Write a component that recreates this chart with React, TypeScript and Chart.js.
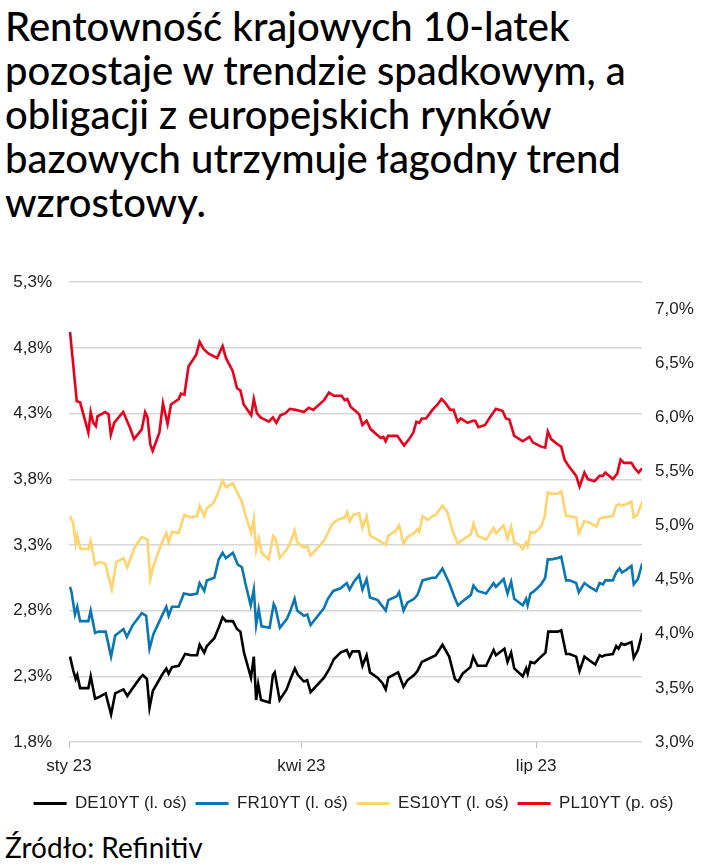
import { useEffect, useRef } from 'react';
import { Chart, registerables } from 'chart.js';

Chart.register(...registerables);

const titleLines = [
  'Rentowność krajowych 10-latek',
  'pozostaje w trendzie spadkowym, a',
  'obligacji z europejskich rynków',
  'bazowych utrzymuje łagodny trend',
  'wzrostowy.',
];
const sourceText = 'Źródło: Refinitiv';

// x values = days since 1 Jan 2023
const xTickDays = [0, 90, 181];
const xTickLabels = ['sty 23', 'kwi 23', 'lip 23'];
const leftTicks = [1.8, 2.3, 2.8, 3.3, 3.8, 4.3, 4.8, 5.3];
const rightTicks = [3.0, 3.5, 4.0, 4.5, 5.0, 5.5, 6.0, 6.5, 7.0];

const seriesNames = ['DE10YT (l. oś)', 'FR10YT (l. oś)', 'ES10YT (l. oś)', 'PL10YT (p. oś)'];

const deDays = [0.4, 1.7, 2.6, 3.2, 4.3, 7.5, 8.4, 10.1, 11.4, 14.2, 16.3, 17.9, 21.1, 22.6, 24.3, 27.6, 28.6, 30.2, 31.2, 32.5, 36, 37.7, 38.6, 39.9, 42.5, 45, 47.3, 49.6, 50.6, 52.4, 53.4, 56.3, 58, 59.5, 60.8, 63.5, 65.1, 66.4, 67.8, 70.5, 71.6, 72.5, 73.3, 74.4, 77.7, 79, 79.7, 81.6, 84.3, 85.8, 87.5, 88.7, 91, 92.3, 93.6, 98.8, 100.7, 102.6, 105.2, 107.6, 108.7, 109.8, 112.4, 113.7, 115.3, 116.6, 119.5, 121.4, 122.7, 123.7, 127.5, 129.6, 131.1, 133.7, 135, 136.7, 138.9, 142.1, 144.7, 147.3, 149.5, 150.8, 152.5, 155.5, 156.6, 158.3, 161.6, 164.5, 165.4, 168.7, 169.9, 171.3, 172.5, 175.8, 177.1, 177.7, 178.8, 180.3, 182.9, 184.6, 185.7, 187.4, 189.4, 190.7, 192.6, 193.9, 196.5, 197.8, 199.7, 201.7, 203.9, 205.6, 206.5, 207.5, 210.7, 212, 212.9, 214, 215.3, 217.9, 218.8, 220.4, 222.1];
const deVals = [2.45, 2.34, 2.28, 2.31, 2.21, 2.21, 2.30, 2.13, 2.14, 2.17, 2.01, 2.17, 2.20, 2.15, 2.20, 2.29, 2.31, 2.28, 2.06, 2.19, 2.31, 2.36, 2.32, 2.37, 2.38, 2.47, 2.46, 2.46, 2.54, 2.48, 2.53, 2.59, 2.67, 2.75, 2.72, 2.72, 2.66, 2.64, 2.48, 2.29, 2.45, 2.12, 2.24, 2.12, 2.10, 2.31, 2.33, 2.12, 2.20, 2.28, 2.36, 2.31, 2.26, 2.27, 2.18, 2.29, 2.35, 2.43, 2.48, 2.50, 2.45, 2.49, 2.49, 2.38, 2.46, 2.33, 2.29, 2.25, 2.20, 2.29, 2.33, 2.22, 2.27, 2.31, 2.34, 2.41, 2.43, 2.46, 2.54, 2.45, 2.28, 2.26, 2.32, 2.37, 2.45, 2.38, 2.38, 2.50, 2.46, 2.51, 2.41, 2.48, 2.36, 2.30, 2.36, 2.32, 2.41, 2.40, 2.45, 2.48, 2.64, 2.64, 2.64, 2.65, 2.47, 2.47, 2.45, 2.34, 2.45, 2.42, 2.39, 2.46, 2.45, 2.46, 2.47, 2.53, 2.51, 2.55, 2.54, 2.56, 2.44, 2.50, 2.63];

const frDays = [0.4, 1, 2.3, 3.2, 4.3, 7.5, 8.4, 10.1, 11.4, 14.2, 16.3, 17.9, 21.1, 22.4, 24.7, 28.2, 29.9, 31.2, 32.7, 36, 37.7, 38.6, 39.9, 42.5, 44.5, 47, 49.6, 50.6, 52.4, 53.4, 56.3, 58, 59.5, 60.8, 63.5, 65.4, 67, 68.3, 70.4, 71.6, 72.5, 73.5, 74.6, 77.7, 79.3, 80, 81.7, 84.5, 85.8, 87.4, 88.4, 91, 92.3, 93.6, 98.8, 100.3, 102.4, 105.2, 107.6, 108.7, 110.4, 112.4, 113.7, 115.3, 116.6, 119.6, 122.7, 123.7, 127, 127.9, 129.6, 131.1, 133.7, 135, 137, 138.9, 140.8, 142.1, 144.7, 147.3, 149.2, 150.7, 153.1, 155.7, 156.7, 158.3, 161.6, 164.5, 165.4, 168.4, 169.9, 171.3, 172.5, 175.8, 177.1, 177.7, 178.8, 180.3, 182.9, 184.5, 185.5, 187, 189.4, 190.7, 192.6, 193.9, 196.5, 197.5, 199.7, 201.7, 204.3, 205.6, 206.9, 207.8, 210.7, 212, 213.3, 214.2, 215.9, 217.9, 218.8, 220.4, 222.1];
const frVals = [2.98, 2.94, 2.77, 2.83, 2.72, 2.72, 2.80, 2.63, 2.64, 2.64, 2.45, 2.61, 2.66, 2.60, 2.69, 2.78, 2.76, 2.51, 2.62, 2.76, 2.83, 2.76, 2.83, 2.83, 2.93, 2.92, 2.93, 3.01, 2.95, 3.03, 3.05, 3.19, 3.24, 3.20, 3.24, 3.15, 3.13, 3.01, 2.84, 2.96, 2.69, 2.81, 2.68, 2.67, 2.85, 2.82, 2.67, 2.74, 2.80, 2.89, 2.80, 2.76, 2.77, 2.69, 2.82, 2.89, 2.95, 2.97, 3.01, 2.96, 3.02, 3.07, 2.96, 3.04, 2.90, 2.88, 2.80, 2.88, 2.91, 2.94, 2.80, 2.86, 2.89, 2.92, 3.03, 3.04, 3.05, 3.05, 3.12, 3.01, 2.91, 2.84, 2.88, 2.92, 2.99, 2.95, 2.93, 3.01, 2.98, 3.04, 2.93, 3.02, 2.89, 2.84, 2.89, 2.84, 2.93, 2.95, 3.00, 3.05, 3.19, 3.19, 3.20, 3.21, 3.03, 3.03, 3.01, 2.94, 3.01, 2.98, 2.95, 3.01, 3.00, 3.03, 3.03, 3.09, 3.12, 3.09, 3.11, 3.14, 3.00, 3.04, 3.16];

const esDays = [0.4, 1.7, 2.6, 3.2, 3.9, 4.5, 7.5, 8.4, 10.1, 11.4, 14, 16.6, 18.3, 21.1, 22.6, 25.6, 28.2, 30.4, 31.5, 32.7, 36, 37.7, 38.6, 39.9, 42.5, 44.7, 47, 49.6, 50.6, 52.4, 53.4, 56, 57.4, 59.5, 60.8, 63.5, 65.4, 67, 68.3, 70.6, 71.6, 72.5, 73.5, 74.6, 77.4, 79.1, 80, 81.7, 84.5, 85.8, 87.4, 88.4, 91, 92.3, 93.6, 98.8, 102, 104, 106.8, 107.8, 108.7, 110.2, 112.4, 113.7, 115.3, 116.6, 119.5, 122.7, 123.7, 126.6, 127.9, 129.6, 131.1, 133.7, 135, 135.7, 137, 138.9, 140.8, 142.1, 144.7, 146.6, 148.6, 150.6, 152.5, 155.7, 156.7, 158.3, 161.6, 164.5, 165.4, 168.4, 169.9, 171.3, 172.5, 174.5, 175.8, 177.1, 177.7, 178.8, 180.3, 182.9, 184.2, 185.5, 187, 189.4, 190.7, 192.6, 193.5, 196.5, 197.5, 199.7, 201.7, 204.3, 205.6, 206.9, 207.8, 210.7, 212, 213.3, 214.2, 215.9, 217.9, 218.8, 220.2, 222.1];
const esVals = [3.52, 3.46, 3.31, 3.37, 3.31, 3.27, 3.27, 3.33, 3.15, 3.17, 3.16, 2.96, 3.17, 3.20, 3.13, 3.29, 3.36, 3.34, 3.04, 3.14, 3.32, 3.39, 3.32, 3.40, 3.39, 3.53, 3.51, 3.52, 3.60, 3.52, 3.58, 3.62, 3.68, 3.79, 3.74, 3.77, 3.69, 3.63, 3.53, 3.39, 3.50, 3.26, 3.35, 3.24, 3.19, 3.37, 3.35, 3.20, 3.27, 3.32, 3.41, 3.32, 3.28, 3.29, 3.22, 3.33, 3.46, 3.49, 3.51, 3.55, 3.48, 3.53, 3.54, 3.43, 3.52, 3.37, 3.34, 3.30, 3.37, 3.41, 3.45, 3.31, 3.36, 3.39, 3.42, 3.40, 3.52, 3.49, 3.52, 3.53, 3.60, 3.55, 3.41, 3.31, 3.34, 3.38, 3.46, 3.37, 3.34, 3.43, 3.39, 3.45, 3.35, 3.44, 3.32, 3.30, 3.27, 3.32, 3.29, 3.40, 3.39, 3.44, 3.51, 3.70, 3.69, 3.69, 3.71, 3.52, 3.52, 3.51, 3.39, 3.48, 3.47, 3.44, 3.50, 3.51, 3.51, 3.52, 3.60, 3.61, 3.60, 3.61, 3.63, 3.51, 3.53, 3.63];

const plDays = [0.4, 3, 4.3, 7.5, 8.4, 9.4, 10.4, 11, 14, 15.3, 16.2, 17.5, 18.5, 21, 23.7, 25.2, 28.2, 29.5, 30.4, 31.5, 32.4, 35, 36.4, 38.2, 39.5, 42.5, 43.4, 44.7, 46.3, 49.3, 50.6, 52.2, 54.1, 57.4, 59.5, 60.8, 63.4, 65.1, 66.4, 67.7, 70.6, 71.6, 72.8, 74.2, 77.4, 79, 80.3, 81.9, 83.9, 85.6, 87.8, 91, 92.9, 94.6, 98.8, 100.7, 102.6, 105.6, 106.8, 107.8, 109.1, 112.4, 113.7, 115.3, 116.9, 120.8, 121.8, 122.7, 123.6, 127.2, 129.8, 131.8, 133.4, 134.6, 135.7, 136.7, 138.3, 140.8, 142.8, 144.3, 145.6, 147.7, 149, 150.6, 151.8, 154.4, 156.4, 157.4, 158.6, 161.2, 162.8, 165.4, 168, 169.3, 170.6, 172.5, 175.8, 178.4, 179.7, 182.9, 184.5, 185.5, 186.8, 189.4, 190.7, 192, 193.3, 196.5, 197.8, 199.7, 201, 203.6, 205.6, 206.8, 207.8, 210.7, 212.4, 213.7, 215, 217.9, 219.2, 220.7, 222];
const plVals = [6.79, 6.15, 6.14, 5.86, 6.05, 5.95, 5.92, 6.01, 6.05, 6.03, 5.84, 5.95, 5.98, 6.05, 5.90, 5.80, 5.89, 6.05, 6.00, 5.75, 5.69, 5.86, 6.13, 5.94, 6.12, 6.17, 6.22, 6.21, 6.47, 6.58, 6.70, 6.63, 6.59, 6.55, 6.66, 6.55, 6.43, 6.27, 6.25, 6.12, 6.02, 6.17, 6.04, 6.00, 5.96, 6.00, 5.95, 6.02, 6.04, 6.08, 6.07, 6.05, 6.09, 6.07, 6.16, 6.23, 6.20, 6.20, 6.16, 6.17, 6.10, 6.03, 5.93, 5.97, 5.89, 5.81, 5.82, 5.78, 5.83, 5.83, 5.74, 5.80, 5.86, 5.96, 5.95, 5.99, 5.99, 6.07, 6.12, 6.17, 6.14, 6.07, 6.07, 5.96, 5.99, 5.95, 5.97, 5.97, 5.91, 5.93, 5.99, 6.08, 6.06, 5.99, 5.98, 5.83, 5.78, 5.82, 5.77, 5.73, 5.72, 5.87, 5.80, 5.75, 5.73, 5.61, 5.56, 5.46, 5.36, 5.49, 5.43, 5.41, 5.46, 5.46, 5.49, 5.43, 5.48, 5.61, 5.58, 5.58, 5.53, 5.49, 5.53];

const colors = ['#000000', '#0a76b4', '#ffd36e', '#e8001c'];

const toPoints = (days: number[], vals: number[]) => days.map((d, i) => ({ x: d, y: vals[i] }));
const fmtPct = (v: number) => v.toFixed(1).replace('.', ',') + '%';

const CHART_FONT = '"Liberation Sans", Arial, sans-serif';
const TITLE_FONT = 'Lato, "Noto Sans", sans-serif';

export default function App() {
  const canvasRef = useRef<HTMLCanvasElement | null>(null);

  useEffect(() => {
    if (!canvasRef.current) return;
    const seriesData = [
      { days: deDays, vals: deVals, axis: 'y' },
      { days: frDays, vals: frVals, axis: 'y' },
      { days: esDays, vals: esVals, axis: 'y' },
      { days: plDays, vals: plVals, axis: 'y2' },
    ];
    const tickFont = { family: CHART_FONT, size: 17 };
    const chart = new Chart(canvasRef.current, {
      type: 'line',
      data: {
        datasets: seriesData.map((s, i) => ({
          label: seriesNames[i],
          data: toPoints(s.days, s.vals),
          yAxisID: s.axis,
          borderColor: colors[i],
          backgroundColor: colors[i],
          borderWidth: 2.6,
          pointRadius: 0,
          tension: 0,
          fill: false,
        })),
      },
      options: {
        animation: false,
        responsive: true,
        maintainAspectRatio: false,
        layout: { padding: { top: 24, left: 0, right: 0, bottom: 0 } },
        plugins: {
          tooltip: { enabled: false },
          legend: {
            position: 'bottom',
            align: 'center',
            labels: {
              boxWidth: 33,
              boxHeight: 3,
              padding: 9,
              color: '#222',
              font: tickFont,
              generateLabels: (c: any) =>
                Chart.defaults.plugins.legend.labels.generateLabels(c).map((l: any) => ({ ...l, lineWidth: 0 })),
            },
          },
        },
        scales: {
          x: {
            type: 'linear',
            min: 0,
            max: 222,
            position: 'bottom',
            afterBuildTicks: (s: any) => {
              s.ticks = xTickDays.map((v) => ({ value: v }));
            },
            afterFit: (s: any) => {
              s.height = 44;
            },
            grid: { drawOnChartArea: false, drawTicks: true, tickLength: 6, color: '#bdbdbd', lineWidth: 1 },
            border: { display: false },
            ticks: {
              autoSkip: false,
              maxRotation: 0,
              padding: 8,
              color: '#222',
              font: tickFont,
              callback: (_v: any, i: number) => xTickLabels[i],
            },
          },
          y: {
            type: 'linear',
            position: 'left',
            min: 1.8,
            max: 5.3,
            afterBuildTicks: (s: any) => {
              s.ticks = leftTicks.map((v) => ({ value: v }));
            },
            afterFit: (s: any) => {
              s.width = 69;
            },
            grid: { color: '#d6d6d6', lineWidth: 1.5, drawTicks: false },
            border: { display: false },
            ticks: {
              padding: 17,
              color: '#222',
              font: tickFont,
              callback: (v: any) => fmtPct(Number(v)),
            },
          },
          y2: {
            type: 'linear',
            position: 'right',
            min: 3.0,
            max: 7.25,
            afterBuildTicks: (s: any) => {
              s.ticks = rightTicks.map((v) => ({ value: v }));
            },
            afterFit: (s: any) => {
              s.width = 65;
            },
            grid: { drawOnChartArea: false, drawTicks: false },
            border: { display: false },
            ticks: {
              padding: 13,
              color: '#222',
              font: tickFont,
              callback: (v: any) => fmtPct(Number(v)),
            },
          },
        },
      } as any,
    });
    return () => chart.destroy();
  }, []);

  return (
    <div style={{ position: 'absolute', left: 0, top: 0, width: 707, height: 868, background: '#fff', overflow: 'hidden' }}>
      <div
        style={{
          position: 'absolute',
          left: 5,
          top: 4,
          fontFamily: TITLE_FONT,
          fontSize: 40,
          fontWeight: 500,
          lineHeight: '44px',
          color: '#000',
          whiteSpace: 'nowrap',
        }}
      >
        {titleLines.map((t, i) => (
          <div key={i}>{t}</div>
        ))}
      </div>
      <div style={{ position: 'absolute', left: 0, top: 255, width: 707, height: 567 }}>
        <canvas ref={canvasRef} />
      </div>
      <div
        style={{
          position: 'absolute',
          left: 5,
          top: 830,
          fontFamily: TITLE_FONT,
          fontSize: 28,
          color: '#000',
          whiteSpace: 'nowrap',
        }}
      >
        {sourceText}
      </div>
    </div>
  );
}
